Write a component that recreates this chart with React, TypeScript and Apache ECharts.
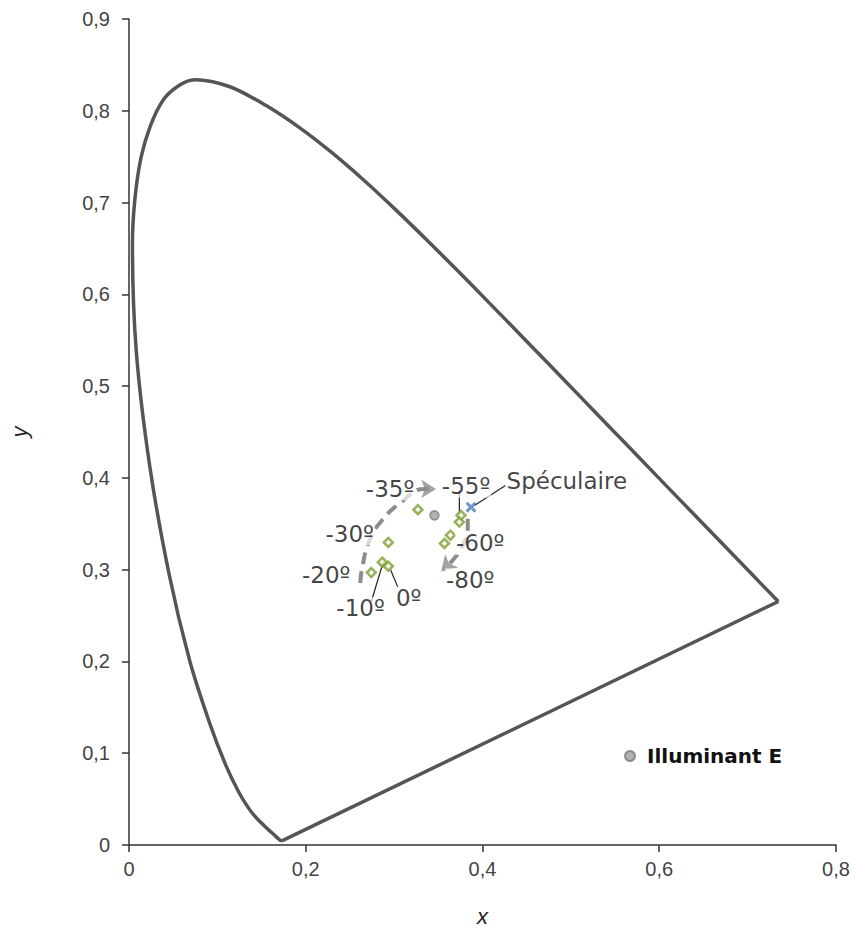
import React, { useEffect, useRef } from "react";
import * as echarts from "echarts";

// CIE 1931 spectral locus (chromaticity x, y), 380 nm -> 700 nm
const locusX = [0.1741, 0.1733, 0.1714, 0.1689, 0.1644, 0.1566, 0.1440, 0.1355, 0.1241, 0.1096, 0.0913, 0.0687, 0.0454, 0.0235, 0.0082, 0.0039, 0.0139, 0.0389, 0.0743, 0.1142, 0.1547, 0.1929, 0.2296, 0.2658, 0.3016, 0.3373, 0.3731, 0.4087, 0.4441, 0.4788, 0.5125, 0.5448, 0.5752, 0.6029, 0.6270, 0.6482, 0.6658, 0.6915, 0.7079, 0.7190, 0.7260, 0.7300, 0.7334, 0.7347];
const locusY = [0.0050, 0.0048, 0.0051, 0.0069, 0.0109, 0.0177, 0.0297, 0.0399, 0.0578, 0.0868, 0.1327, 0.2007, 0.2950, 0.4127, 0.5384, 0.6548, 0.7502, 0.8120, 0.8338, 0.8262, 0.8059, 0.7816, 0.7543, 0.7243, 0.6923, 0.6589, 0.6245, 0.5896, 0.5547, 0.5202, 0.4866, 0.4544, 0.4242, 0.3965, 0.3725, 0.3514, 0.3340, 0.3083, 0.2920, 0.2809, 0.2740, 0.2700, 0.2666, 0.2653];

// measured points (green diamonds)
const measX = [0.3269, 0.3757, 0.3738, 0.3637, 0.3569, 0.2934, 0.2866, 0.2934, 0.2742];
const measY = [0.3653, 0.3592, 0.3519, 0.3376, 0.3286, 0.3297, 0.3081, 0.3038, 0.2969];

// Illuminant E and specular point
const illumE = [0.3456, 0.3592];
const specular = [0.3870, 0.3681];

// angle annotations (text, anchor x, anchor y)
const labelNames = ["-35º", "-55º", "Spéculaire", "-30º", "-60º", "-20º", "-80º", "0º", "-10º"];
const labelX = [0.2954, 0.3814, 0.4954, 0.2497, 0.3974, 0.2231, 0.3861, 0.3165, 0.2620];
const labelY = [0.3880, 0.3908, 0.3970, 0.3394, 0.3286, 0.2944, 0.2890, 0.2692, 0.2577];

// leader lines [x1, y1, x2, y2]
const leaders = [
  [0.2742, 0.2653, 0.2877, 0.3084],
  [0.3043, 0.2807, 0.2960, 0.2998],
  [0.3738, 0.3860, 0.3738, 0.3630],
  [0.4260, 0.3916, 0.3908, 0.3700],
];

// dashed arrows
const arrow1X = [0.2618, 0.2637, 0.2723, 0.2847, 0.3080, 0.3343, 0.3440];
const arrow1Y = [0.2854, 0.3016, 0.3322, 0.3519, 0.3735, 0.3880, 0.3880];
const arrow2X = [0.3833, 0.3833, 0.3777, 0.3682, 0.3560];
const arrow2Y = [0.3556, 0.3430, 0.3268, 0.3124, 0.3005];
const arrowTips = [
  { x: 0.3475, y: 0.3880, rot: -90 },
  { x: 0.3532, y: 0.2980, rot: 135 },
];

const xTicks = { min: 0, max: 0.8, interval: 0.2 };
const yTicks = { min: 0, max: 0.9, interval: 0.1 };

const fmt = (v: number) => (v === 0 ? "0" : v.toFixed(1).replace(".", ","));

export default function App() {
  const ref = useRef<HTMLDivElement>(null);
  useEffect(() => {
    document.body.style.margin = "0";
    const chart = echarts.init(ref.current!, null, { renderer: "svg" });
    const zip = (xs: number[], ys: number[]) => xs.map((x, i) => [x, ys[i]]);
    const last = locusX.length - 1;
    const axisCommon = {
      type: "value" as const,
      splitLine: { show: false },
      axisLine: { show: true, onZero: false, lineStyle: { color: "#333", width: 1.5 } },
      axisTick: { show: true, length: 7, lineStyle: { color: "#333", width: 1.5 } },
      axisLabel: {
        formatter: fmt,
        fontSize: 20,
        fontFamily: "Liberation Sans",
        color: "#444",
      },
      nameTextStyle: {
        fontStyle: "italic",
        fontSize: 22,
        fontFamily: "Liberation Sans",
        color: "#222",
      },
    };
    const dashed = {
      type: "line",
      smooth: true,
      showSymbol: false,
      symbol: "none",
      silent: true,
      lineStyle: { color: "#8c8c8c", width: 4, type: [12, 7] },
      z: 3,
    };
    const locusStyle = { color: "#555", width: 3.5 };
    chart.setOption({
      animation: false,
      grid: { left: 127, right: 19, top: 19, bottom: 79, containLabel: false },
      legend: {
        data: [{ name: "Illuminant E", icon: "circle" }],
        left: 619,
        top: 741,
        itemWidth: 10,
        itemHeight: 10,
        textStyle: {
          fontSize: 20,
          fontWeight: "bold",
          fontFamily: "DejaVu Sans",
          color: "#111",
          padding: [0, 0, 0, 7],
        },
      },
      xAxis: {
        ...axisCommon,
        ...xTicks,
        name: "x",
        nameLocation: "middle",
        nameGap: 60,
        axisLabel: { ...axisCommon.axisLabel, margin: 14 },
      },
      yAxis: {
        ...axisCommon,
        ...yTicks,
        name: "y",
        nameLocation: "middle",
        nameRotate: 90,
        nameGap: 99,
        axisLabel: { ...axisCommon.axisLabel, margin: 19 },
      },
      series: [
        {
          name: "Locus",
          type: "line",
          data: zip(locusX, locusY),
          smooth: 0.3,
          showSymbol: false,
          symbol: "none",
          lineStyle: locusStyle,
          z: 2,
        },
        {
          name: "Purple",
          type: "line",
          data: [[locusX[last], locusY[last]], [locusX[0], locusY[0]]],
          showSymbol: false,
          symbol: "none",
          lineStyle: locusStyle,
          z: 2,
        },
        { ...dashed, name: "a1", data: zip(arrow1X, arrow1Y) },
        { ...dashed, name: "a2", data: zip(arrow2X, arrow2Y) },
        {
          name: "tips",
          type: "scatter",
          symbol: "arrow",
          symbolSize: [14, 15],
          silent: true,
          itemStyle: { color: "#8c8c8c" },
          data: arrowTips.map((t) => ({ value: [t.x, t.y], symbolRotate: t.rot })),
          z: 3,
        },
        ...leaders.map((l, i) => ({
          name: "leader" + i,
          type: "line",
          data: [[l[0], l[1]], [l[2], l[3]]],
          showSymbol: false,
          symbol: "none",
          silent: true,
          lineStyle: { color: "#222", width: 1.2 },
          z: 4,
        })),
        {
          name: "Mesures",
          type: "scatter",
          symbol: "diamond",
          symbolSize: 9,
          itemStyle: { color: "#f4f8e8", borderColor: "#7e9e35", borderWidth: 2.5 },
          data: zip(measX, measY),
          z: 5,
        },
        {
          name: "Illuminant E",
          type: "scatter",
          symbol: "circle",
          symbolSize: 9,
          itemStyle: { color: "#a0a0a0", borderColor: "#7a7a7a", borderWidth: 1.5 },
          data: [illumE],
          z: 5,
        },
        {
          name: "Spéculaire",
          type: "scatter",
          symbol:
            "path://M2,0 L5,3 L8,0 L10,2 L7,5 L10,8 L8,10 L5,7 L2,10 L0,8 L3,5 L0,2 Z",
          symbolSize: 11,
          itemStyle: { color: "#4a7ebb" },
          data: [specular],
          z: 5,
        },
        {
          name: "labels",
          type: "scatter",
          symbolSize: 0,
          silent: true,
          label: {
            show: true,
            position: "inside",
            formatter: "{b}",
            fontSize: 23,
            fontFamily: "DejaVu Sans",
            color: "#111",
            backgroundColor: "rgba(255,255,255,0.85)",
            padding: [0, 1],
          },
          data: labelNames.map((n, i) => ({ name: n, value: [labelX[i], labelY[i]] })),
          z: 6,
        },
      ],
    });
    return () => chart.dispose();
  }, []);
  return <div ref={ref} style={{ width: 855, height: 932 }} />;
}
